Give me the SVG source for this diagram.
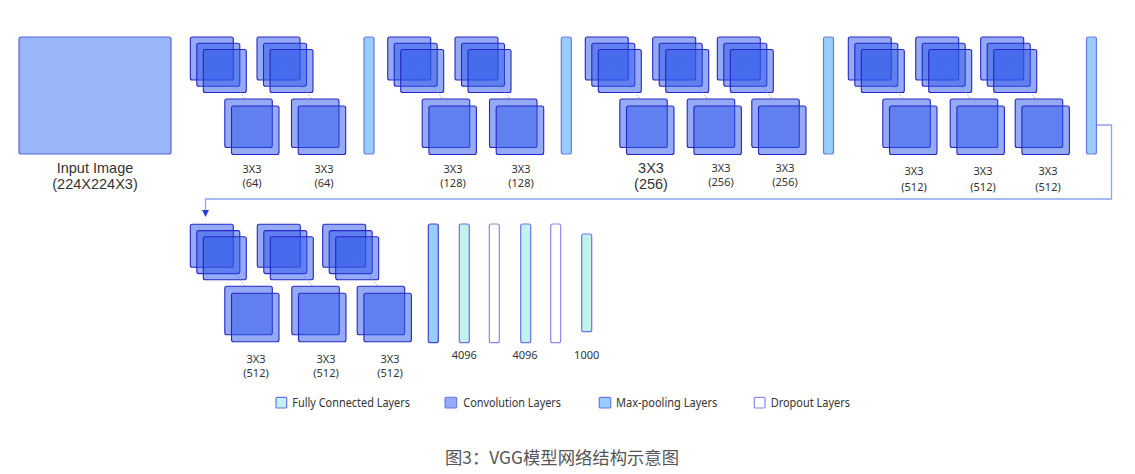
<svg xmlns="http://www.w3.org/2000/svg" xmlns:xlink="http://www.w3.org/1999/xlink" width="1135" height="474" viewBox="0 0 1135 474">
<style>
.sq{fill:#2c55ea;fill-opacity:0.5;stroke:#2626c8;stroke-width:1.1}
.dot{stroke:#5a78e0;stroke-width:1;stroke-dasharray:1 2.2;fill:none}
.pool{fill:#99ccff;stroke:#6a78ec;stroke-width:1.2}
.pool2{fill:#99ccff;stroke:#4444d8;stroke-width:1.2}
.fc{fill:#c2f2ee;stroke:#6f72e6;stroke-width:1.2}
.drop{fill:#ffffff;stroke:#8a88ee;stroke-width:1.2}
.inp{fill:#99b6f8;stroke:#5566dd;stroke-width:1.2}
.lbl{font-family:"Noto Sans","Open Sans",sans-serif;font-size:11px;fill:#333;text-anchor:middle}
.big{font-family:"Liberation Sans",Arial,sans-serif;font-size:14.5px;fill:#333;text-anchor:middle}
.leg{font-family:"Noto Sans","Open Sans",sans-serif;font-size:12px;fill:#333}
.cap{font-family:"Noto Sans CJK SC","Noto Sans",sans-serif;font-size:17px;fill:#555;text-anchor:middle}
.conn{fill:none;stroke:#8aa4f2;stroke-width:1.3}
</style>
<defs>
<g id="unit">
<rect class="sq" x="0" y="0" width="43" height="43" rx="2"/>
<rect class="sq" x="6.5" y="6.3" width="43" height="43" rx="2"/>
<rect class="sq" x="13" y="12.5" width="43" height="43" rx="2"/>
<line class="dot" x1="30" y1="30" x2="55" y2="62"/>
<rect class="sq" x="34.5" y="62" width="47.5" height="48.5" rx="2"/>
<rect class="sq" x="41.2" y="69" width="47.5" height="48.5" rx="2"/>
</g>
<marker id="arr" markerWidth="8" markerHeight="8" refX="6" refY="3.5" orient="auto" markerUnits="userSpaceOnUse">
<path d="M0,0 L7,3.5 L0,7 Z" fill="#2a40d0"/>
</marker>
</defs>

<g id="connectors">
<path class="conn" d="M1096,125 H1111.5 V199 H205.5 V216" marker-end="url(#arr)"/>
</g>

<g id="input">
<rect class="inp" x="19" y="37" width="152" height="117" rx="2"/>
<text class="big" x="95" y="172.5">Input Image</text>
<text class="big" x="95" y="189">(224X224X3)</text>
</g>

<g id="conv1_1"><use xlink:href="#unit" x="190.3" y="37"/><text class="lbl" x="252" y="172.5">3X3</text><text class="lbl" x="252" y="187">(64)</text></g>
<g id="conv1_2"><use xlink:href="#unit" x="257" y="37"/><text class="lbl" x="324" y="172.5">3X3</text><text class="lbl" x="324" y="187">(64)</text></g>
<g id="pool1"><rect class="pool" x="364" y="37" width="10" height="117" rx="2"/></g>

<g id="conv2_1"><use xlink:href="#unit" x="387.7" y="37"/><text class="lbl" x="453" y="172.5">3X3</text><text class="lbl" x="453" y="187">(128)</text></g>
<g id="conv2_2"><use xlink:href="#unit" x="455" y="37"/><text class="lbl" x="521" y="172.5">3X3</text><text class="lbl" x="521" y="187">(128)</text></g>
<g id="pool2"><rect class="pool" x="561.3" y="37" width="10" height="117" rx="2"/></g>

<g id="conv3_1"><use xlink:href="#unit" x="585.3" y="37"/><text class="big" x="651" y="172.5">3X3</text><text class="big" x="651" y="188.5">(256)</text></g>
<g id="conv3_2"><use xlink:href="#unit" x="652.7" y="37"/><text class="lbl" x="721" y="171.7">3X3</text><text class="lbl" x="721" y="185.7">(256)</text></g>
<g id="conv3_3"><use xlink:href="#unit" x="717.3" y="37"/><text class="lbl" x="785" y="171.7">3X3</text><text class="lbl" x="785" y="185.7">(256)</text></g>
<g id="pool3"><rect class="pool" x="823.5" y="37" width="10" height="117" rx="2"/></g>

<g id="conv4_1"><use xlink:href="#unit" x="848.3" y="37"/><text class="lbl" x="914" y="175">3X3</text><text class="lbl" x="914" y="190.5">(512)</text></g>
<g id="conv4_2"><use xlink:href="#unit" x="915.7" y="37"/><text class="lbl" x="983" y="175">3X3</text><text class="lbl" x="983" y="190.5">(512)</text></g>
<g id="conv4_3"><use xlink:href="#unit" x="980.7" y="37"/><text class="lbl" x="1048" y="175">3X3</text><text class="lbl" x="1048" y="190.5">(512)</text></g>
<g id="pool4"><rect class="pool" x="1086.5" y="37" width="10" height="117" rx="2"/></g>

<g id="conv5_1"><use xlink:href="#unit" x="190.3" y="224.3"/><text class="lbl" x="256" y="362.7">3X3</text><text class="lbl" x="256" y="376.7">(512)</text></g>
<g id="conv5_2"><use xlink:href="#unit" x="257.3" y="224.3"/><text class="lbl" x="326" y="362.7">3X3</text><text class="lbl" x="326" y="376.7">(512)</text></g>
<g id="conv5_3"><use xlink:href="#unit" x="322.7" y="224.3"/><text class="lbl" x="390" y="362.7">3X3</text><text class="lbl" x="390" y="376.7">(512)</text></g>
<g id="pool5"><rect class="pool2" x="428.3" y="224" width="10" height="118.7" rx="2"/></g>

<g id="fc1"><rect class="fc" x="459.3" y="224" width="10" height="118.7" rx="2"/><text class="lbl" x="464.3" y="359.3">4096</text></g>
<g id="drop1"><rect class="drop" x="489.3" y="224" width="10" height="118.7" rx="2"/></g>
<g id="fc2"><rect class="fc" x="520.7" y="224" width="10" height="118.7" rx="2"/><text class="lbl" x="525" y="359.3">4096</text></g>
<g id="drop2"><rect class="drop" x="550.7" y="224" width="10" height="118.7" rx="2"/></g>
<g id="fc3"><rect class="fc" x="581.7" y="234" width="10" height="97.7" rx="2"/><text class="lbl" x="586.7" y="359.3">1000</text></g>

<g id="legend">
<rect class="fc" x="276" y="397.3" width="10.7" height="10.7" rx="1"/>
<text class="leg" x="292.3" y="406.5" textLength="117.7" lengthAdjust="spacingAndGlyphs">Fully Connected Layers</text>
<rect class="sq" style="fill:#2c55ea;fill-opacity:0.5;stroke:#6a78ec" x="445" y="397.3" width="11.7" height="10.7" rx="1"/>
<text class="leg" x="463.3" y="406.5" textLength="97.7" lengthAdjust="spacingAndGlyphs">Convolution Layers</text>
<rect class="pool" x="599.3" y="397.3" width="11.4" height="10.7" rx="1"/>
<text class="leg" x="616" y="406.5" textLength="101.3" lengthAdjust="spacingAndGlyphs">Max-pooling Layers</text>
<rect class="drop" x="754.3" y="397.3" width="10.7" height="10.7" rx="1"/>
<text class="leg" x="770.7" y="406.5" textLength="79.3" lengthAdjust="spacingAndGlyphs">Dropout Layers</text>
</g>

<g id="caption">
<text class="cap" x="562" y="464" textLength="234" lengthAdjust="spacingAndGlyphs">图3：VGG模型网络结构示意图</text>
</g>
</svg>
